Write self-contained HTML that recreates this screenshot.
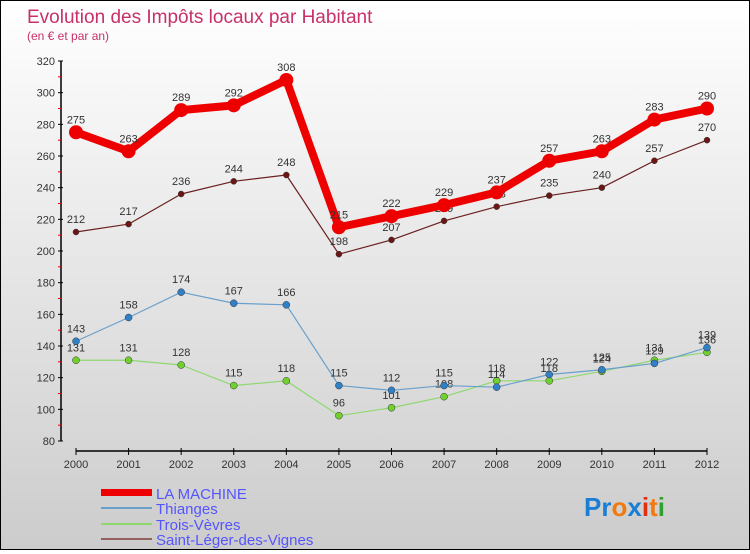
<!DOCTYPE html>
<html><head><meta charset="utf-8"><style>
body{margin:0;width:750px;height:550px;overflow:hidden;font-family:"Liberation Sans",sans-serif}
#c{position:absolute;left:0;top:0;width:748px;height:548px;border:1px solid #000;background:linear-gradient(#fff,#ccc)}
</style></head><body>
<div id="c">
<svg id="s" width="748" height="548" xmlns="http://www.w3.org/2000/svg">
<text x="26" y="22" font-size="19" fill="#c8306a">Evolution des Impôts locaux par Habitant</text>
<text x="26" y="39" font-size="12" fill="#c8306a">(en € et par an)</text>
<g id="axes"></g><g id="series"></g>
<g>
<rect x="100" y="488" width="51" height="7" fill="#e00"/>
<text x="155" y="498" font-size="15" fill="#55f">LA MACHINE</text>
<rect x="100" y="506" width="51" height="2" fill="#6aa0cc"/>
<text x="155" y="513" font-size="15" fill="#55f">Thianges</text>
<rect x="100" y="522" width="51" height="2" fill="#8fd870"/>
<text x="155" y="529" font-size="15" fill="#55f">Trois-Vèvres</text>
<rect x="100" y="537" width="51" height="2" fill="#946060"/>
<text x="155" y="544" font-size="15" fill="#55f">Saint-Léger-des-Vignes</text>
</g>
<g font-size="26" font-weight="bold">
<text x="583" y="515"><tspan fill="#1a7fd4">Pr</tspan><tspan fill="#f07a10">o</tspan><tspan fill="#1a7fd4">x</tspan><tspan fill="#e03010">i</tspan><tspan fill="#f07a10">t</tspan><tspan fill="#30a030">i</tspan></text>
</g>
</svg></div>
<script>
const years=[2000,2001,2002,2003,2004,2005,2006,2007,2008,2009,2010,2011,2012];
const laMachine=[275,263,289,292,308,215,222,229,237,257,263,283,290];
const thianges=[143,158,174,167,166,115,112,115,114,122,125,129,139];
const troisVevres=[131,131,128,115,118,96,101,108,118,118,124,131,136];
const saintLeger=[212,217,236,244,248,198,207,219,228,235,240,257,270];
const yTicks=[80,100,120,140,160,180,200,220,240,260,280,300,320];
const NS="http://www.w3.org/2000/svg";
const X=i=>75+i*(706-75)/(years.length-1);
const Y=v=>440-(v-80)*(380/240);
function mk(t,a,p){const e=document.createElementNS(NS,t);for(const k in a)e.setAttribute(k,a[k]);p.appendChild(e);return e;}
const ax=document.getElementById('axes');
const ya=mk('line',{x1:60,y1:Y(320),x2:60,y2:Y(80),stroke:'#000','stroke-width':1.5},ax);


yTicks.forEach((v,i)=>{
 mk('line',{x1:57,y1:Y(v),x2:62,y2:Y(v),stroke:'#000'},ax);
 if(i<yTicks.length-1)mk('line',{x1:57,y1:Y(v+10),x2:60,y2:Y(v+10),stroke:'#e00'},ax);
 const t=mk('text',{x:54,y:Y(v)+4,'font-size':11,fill:'#333','text-anchor':'end'},ax);t.textContent=v;
 
 
});
const xa=mk('line',{x1:X(0),y1:450,x2:X(12),y2:450,stroke:'#000','stroke-width':1.5},ax);


years.forEach((y,i)=>{
 mk('line',{x1:X(i),y1:447,x2:X(i),y2:454,stroke:'#000'},ax);
 const t=mk('text',{x:X(i),y:467,'font-size':11,fill:'#333','text-anchor':'middle'},ax);t.textContent=y;
 
 
});
const sg=document.getElementById('series');
function series(d,col,dot,w,r,name){
 const g=mk('g',{},sg);
 
 
 mk('polyline',{points:d.map((v,i)=>X(i)+','+Y(v)).join(' '),fill:'none',stroke:col,'stroke-width':w,'stroke-linejoin':'round'},g);
 d.forEach((v,i)=>{
  const c=mk('circle',{cx:X(i),cy:Y(v),r:r,fill:dot,stroke:w>3?'none':'#333','stroke-width':0.5},g);
  
  
  const t=mk('text',{x:X(i),y:Y(v)-9,'font-size':11,fill:'#333','text-anchor':'middle'},g);t.textContent=v;
  
  
 });
}
series(troisVevres,'#8fd870','#70d030',1.2,3.5,'series-trois-vevres');
series(thianges,'#6aa0cc','#3080c8',1.2,3.5,'series-thianges');
series(saintLeger,'#6b2020','#6b1515',1.2,3,'series-saint-leger-des-vignes');
series(laMachine,'#ee0000','#ee0000',8,7,'series-la-machine');
</script>
</body></html>
